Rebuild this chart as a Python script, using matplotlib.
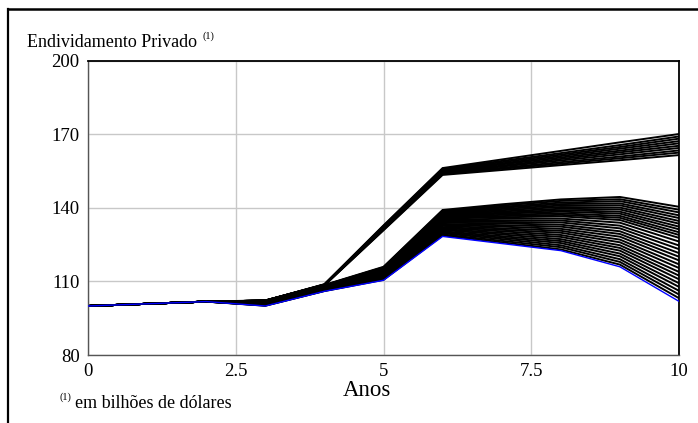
import matplotlib
matplotlib.use("Agg")
import matplotlib.pyplot as plt
from matplotlib.lines import Line2D

years = [0, 1, 2, 3, 4, 5, 6, 7, 8, 9, 10]
x_ticks = [0, 2.5, 5, 7.5, 10]
x_tick_labels = ["0", "2.5", "5", "7.5", "10"]
y_ticks = [80, 110, 140, 170, 200]
y_tick_labels = ["80", "110", "140", "170", "200"]

# base run (blue)
base_run = [100.0, 100.9, 101.8, 100.0, 106.0, 110.5, 128.4, 125.5, 122.6, 116.0, 101.9]

# lower group of simulation runs
lower_runs = [
    [100.0, 100.9, 101.8, 100.1, 106.1, 110.7, 128.8, 126.0, 123.1, 116.9, 103.2],
    [100.0, 100.9, 101.8, 100.2, 106.2, 110.9, 129.2, 126.6, 124.0, 118.0, 104.7],
    [100.0, 100.9, 101.8, 100.3, 106.3, 111.1, 129.7, 127.3, 124.8, 119.1, 106.2],
    [100.0, 100.9, 101.8, 100.3, 106.4, 111.3, 130.1, 127.9, 125.7, 120.3, 107.8],
    [100.0, 100.9, 101.8, 100.4, 106.5, 111.5, 130.5, 128.5, 126.5, 121.4, 109.3],
    [100.0, 100.9, 101.8, 100.5, 106.6, 111.8, 131.0, 129.2, 127.3, 122.6, 110.9],
    [100.0, 100.9, 101.8, 100.6, 106.7, 112.0, 131.4, 129.8, 128.2, 123.7, 112.4],
    [100.0, 100.9, 101.8, 100.7, 106.8, 112.2, 131.8, 130.5, 129.0, 124.8, 113.9],
    [100.0, 100.9, 101.8, 100.8, 106.9, 112.4, 132.2, 131.1, 129.9, 126.0, 115.5],
    [100.0, 100.9, 101.8, 100.9, 107.0, 112.6, 132.7, 131.7, 130.7, 127.1, 117.0],
    [100.0, 100.9, 101.8, 101.0, 107.1, 112.9, 133.1, 132.4, 131.5, 128.3, 118.6],
    [100.0, 100.9, 101.8, 101.1, 107.2, 113.1, 133.5, 133.0, 132.4, 129.4, 120.1],
    [100.0, 100.9, 101.8, 101.2, 107.3, 113.3, 134.0, 133.7, 133.2, 130.5, 121.6],
    [100.0, 100.9, 101.8, 101.3, 107.4, 113.5, 134.4, 134.3, 134.1, 131.7, 123.2],
    [100.0, 100.9, 101.8, 101.4, 107.5, 113.7, 134.8, 134.9, 134.9, 132.8, 124.7],
    [100.0, 100.9, 101.8, 101.4, 107.6, 114.0, 135.2, 135.6, 135.7, 134.0, 126.3],
    [100.0, 100.9, 101.8, 101.5, 107.7, 114.2, 135.7, 136.2, 136.6, 135.1, 127.8],
    [100.0, 100.9, 101.8, 101.6, 107.8, 114.4, 136.0, 136.7, 137.2, 136.0, 129.0],
    [100.0, 100.9, 101.8, 101.7, 107.9, 114.5, 136.3, 137.2, 137.8, 136.8, 130.1],
    [100.0, 100.9, 101.8, 101.7, 108.0, 114.7, 136.6, 137.7, 138.5, 137.7, 131.3],
    [100.0, 100.9, 101.8, 101.8, 108.1, 114.8, 137.0, 138.1, 139.1, 138.5, 132.4],
    [100.0, 100.9, 101.8, 101.9, 108.1, 115.0, 137.3, 138.6, 139.7, 139.4, 133.6],
    [100.0, 100.9, 101.8, 102.0, 108.2, 115.2, 137.6, 139.1, 140.4, 140.2, 134.7],
    [100.0, 100.9, 101.8, 102.0, 108.3, 115.3, 137.9, 139.6, 141.0, 141.1, 135.9],
    [100.0, 100.9, 101.8, 102.1, 108.4, 115.5, 138.2, 140.1, 141.6, 141.9, 137.0],
    [100.0, 100.9, 101.8, 102.2, 108.4, 115.7, 138.6, 140.5, 142.2, 142.8, 138.2],
    [100.0, 100.9, 101.8, 102.2, 108.5, 115.8, 138.9, 141.0, 142.9, 143.6, 139.3],
    [100.0, 100.9, 101.8, 102.3, 108.6, 116.0, 139.2, 141.5, 143.5, 144.5, 140.5],
]

# upper group of simulation runs
upper_runs = [
    [100.0, 100.9, 101.8, 102.2, 108.4, 130.9, 153.5, 155.5, 157.5, 159.5, 161.6],
    [100.0, 100.9, 101.8, 102.2, 108.5, 131.1, 153.8, 156.0, 158.1, 160.3, 162.6],
    [100.0, 100.9, 101.8, 102.2, 108.5, 131.3, 154.1, 156.4, 158.7, 161.0, 163.5],
    [100.0, 100.9, 101.8, 102.2, 108.6, 131.5, 154.4, 156.9, 159.4, 161.9, 164.5],
    [100.0, 100.9, 101.8, 102.2, 108.6, 131.8, 154.7, 157.3, 160.0, 162.7, 165.4],
    [100.0, 100.9, 101.8, 102.2, 108.7, 132.0, 155.0, 157.8, 160.6, 163.4, 166.4],
    [100.0, 100.9, 101.8, 102.2, 108.7, 132.2, 155.3, 158.2, 161.2, 164.2, 167.3],
    [100.0, 100.9, 101.8, 102.2, 108.8, 132.4, 155.6, 158.7, 161.8, 164.9, 168.3],
    [100.0, 100.9, 101.8, 102.2, 108.8, 132.7, 156.0, 159.2, 162.4, 165.7, 169.2],
    [100.0, 100.9, 101.8, 102.2, 108.9, 132.9, 156.3, 159.8, 163.3, 166.8, 170.2],
]

serif = ["Liberation Serif", "DejaVu Serif"]

fig = plt.figure(figsize=(6.98, 4.23), dpi=100)
ax = fig.add_axes([88 / 698, 1 - 355 / 423, (679 - 88) / 698, (355 - 61) / 423])

for run in upper_runs:
    ax.plot(years, run, color="black", lw=1.4, solid_joinstyle="miter", zorder=2)
for run in lower_runs:
    ax.plot(years, run, color="black", lw=1.4, solid_joinstyle="miter", zorder=2)
ax.plot(years, base_run, color="#0000ff", lw=1.0, zorder=3)

ax.set_xlim(0, 10)
ax.set_ylim(80, 200)
ax.set_xticks(x_ticks)
ax.set_xticklabels(x_tick_labels, family=serif, fontsize=13.5)
ax.set_yticks(y_ticks)
ax.set_yticklabels(y_tick_labels, family=serif, fontsize=13.5)
ax.tick_params(length=0, pad=6)
ax.grid(True, color="#c8c8c8", lw=1.0, zorder=0)
ax.set_axisbelow(True)
for side in ("left", "bottom"):
    ax.spines[side].set_color("#555555")
    ax.spines[side].set_linewidth(1.0)
for side in ("top", "right"):
    ax.spines[side].set_color("black")
    ax.spines[side].set_linewidth(1.3)

# title and footnote
fig.text(27 / 698, 1 - 47 / 423, "Endividamento Privado", family=serif,
         fontsize=13, ha="left", va="baseline")
fig.text(203 / 698, 1 - 39 / 423, "(1)", family=serif, fontsize=7.5,
         ha="left", va="baseline")
fig.text(75 / 698, 1 - 408 / 423, "em bilhões de dólares", family=serif,
         fontsize=13, ha="left", va="baseline")
fig.text(60 / 698, 1 - 400 / 423, "(1)", family=serif, fontsize=7.5,
         ha="left", va="baseline")
fig.text(367 / 698, 1 - 396 / 423, "Anos", family=serif, fontsize=16.5,
         ha="center", va="baseline")

# outer frame of the original figure
fig.add_artist(Line2D([8 / 698, 8 / 698], [0, 1 - 9 / 423], color="black",
                      lw=1.6, transform=fig.transFigure))
fig.add_artist(Line2D([8 / 698, 1], [1 - 9 / 423, 1 - 9 / 423], color="black",
                      lw=1.8, transform=fig.transFigure))

fig.savefig("out.png", dpi=100)
